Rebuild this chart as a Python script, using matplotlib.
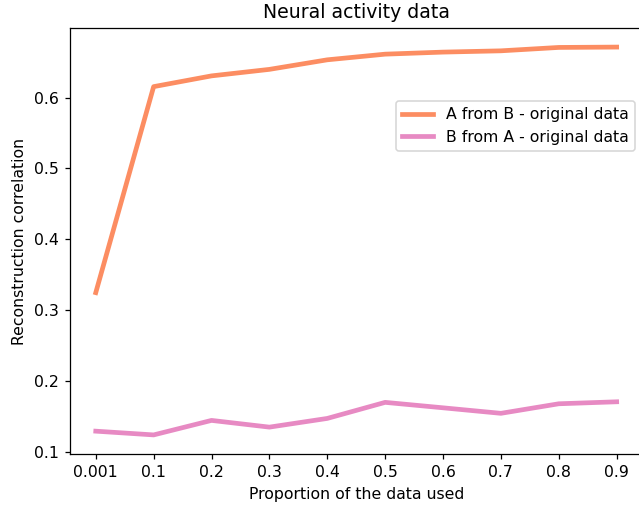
import matplotlib.pyplot as plt

# x categories (equally spaced on the axis)
proportions = ['0.001', '0.1', '0.2', '0.3', '0.4', '0.5', '0.6', '0.7', '0.8', '0.9']

# reconstruction correlation for each direction
a_from_b = [0.3245, 0.6156, 0.6308, 0.640, 0.6535, 0.6615, 0.6644, 0.6662, 0.671, 0.6715]
b_from_a = [0.1288, 0.1235, 0.144, 0.1345, 0.1468, 0.1695, 0.1618, 0.154, 0.1675, 0.1703]

dpi = 113
fig = plt.figure(figsize=(639 / dpi, 508 / dpi), dpi=dpi)
ax = fig.add_axes([0.1091, 0.1057, 0.8967, 0.8398])

x = range(len(proportions))
ax.plot(x, a_from_b, color='#fc8d62', lw=3, label='A from B - original data')
ax.plot(x, b_from_a, color='#e78ac3', lw=3, label='B from A - original data')

ax.set_xticks(list(x))
ax.set_xticklabels(proportions)

# right edge of the axes falls outside the picture
ax.spines['right'].set_visible(False)

ax.set_xlabel('Proportion of the data used')
ax.set_ylabel('Reconstruction correlation')
ax.set_title('Neural activity data')

ax.legend(loc='upper right', bbox_to_anchor=(1.0, 0.847))

fig.savefig('out.png', dpi=dpi)
